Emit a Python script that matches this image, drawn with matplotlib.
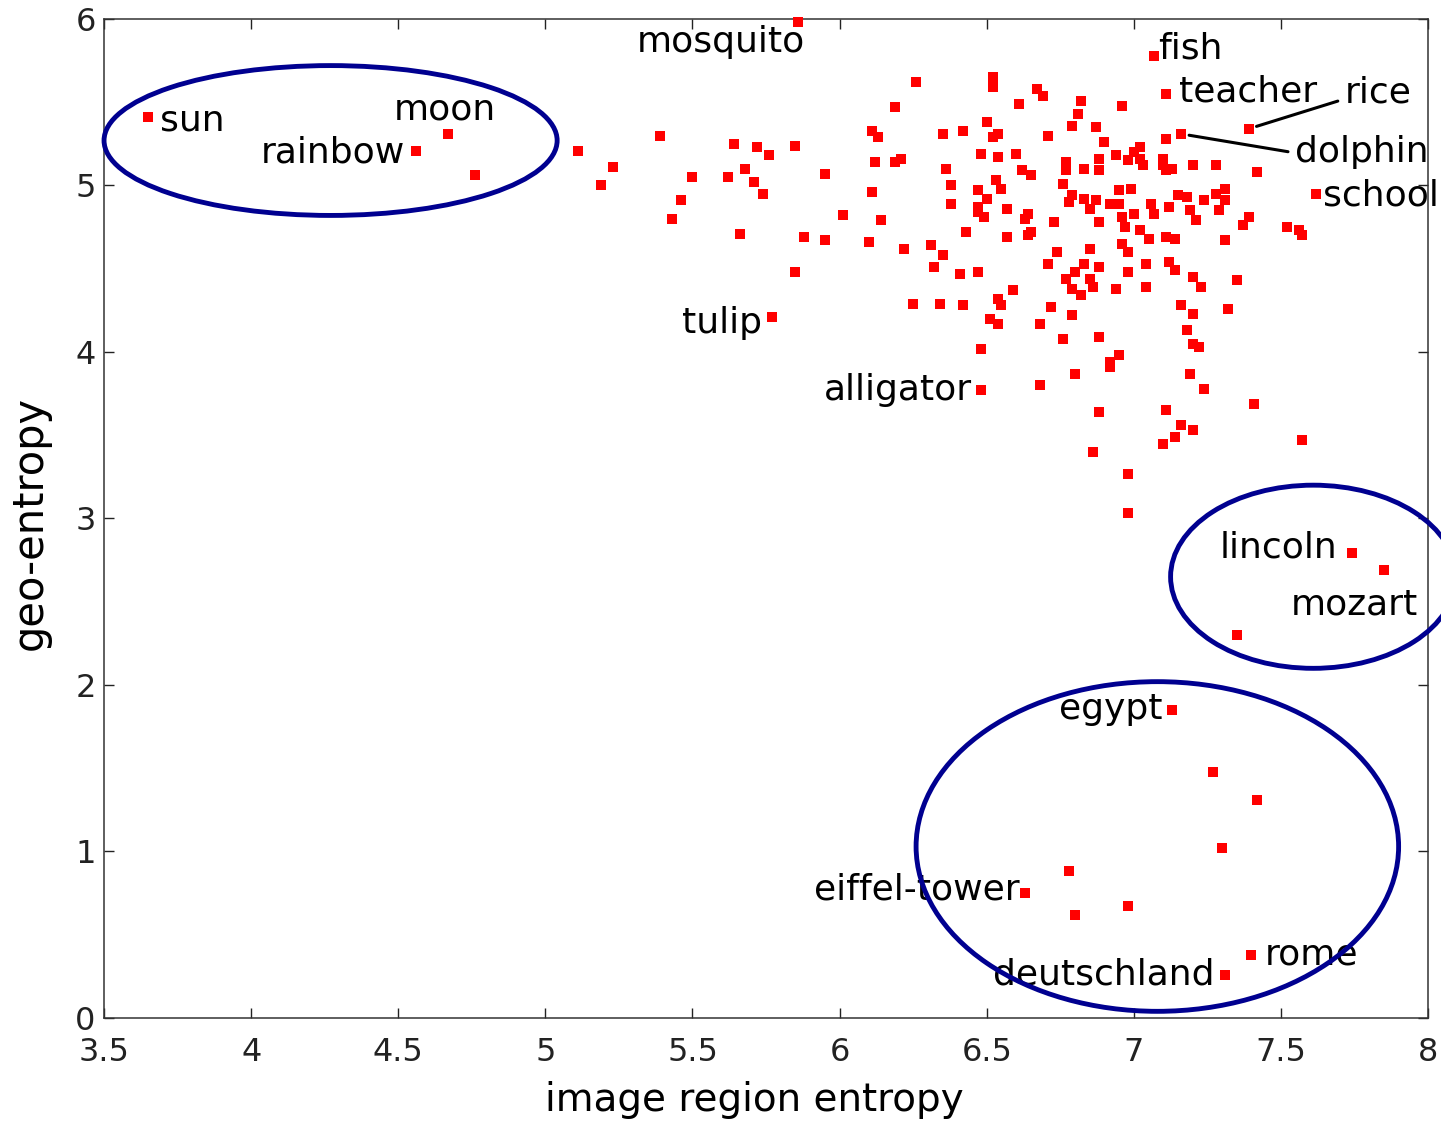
import matplotlib
matplotlib.use('Agg')
import matplotlib.pyplot as plt
from matplotlib.patches import Ellipse

# unlabeled words: image region entropy vs geo-entropy
entropy_x = [
    4.76,
    5.11, 5.39, 5.23, 5.19, 5.50, 5.46, 5.43, 5.64, 5.72, 5.76, 5.68, 5.62, 5.71, 5.74, 5.66, 5.85, 5.95, 6.01, 5.88, 5.95, 5.85,
    6.11, 6.13, 6.12, 6.19, 6.21, 6.11, 6.14, 6.10, 6.19,
    6.26, 6.52, 6.52, 6.67, 6.69, 6.82, 6.61, 6.96, 6.81, 6.79, 6.50, 6.35, 6.42, 6.52, 6.54, 6.71, 6.87, 7.11, 6.90,
    6.48, 6.54, 6.60, 6.77, 6.77, 6.76, 6.83, 6.88, 6.88, 6.94, 6.98, 7.00, 7.02, 7.02, 7.03, 7.10, 7.10, 7.11, 7.13, 7.20, 7.28, 7.42,
    6.36, 6.62, 6.65, 6.38, 6.47, 6.53, 6.55, 6.79, 6.78, 6.83, 6.85, 6.87, 6.95, 6.99, 6.92, 6.95, 7.06, 7.07, 7.12, 7.15, 7.18, 7.19,
    7.21, 7.24, 7.28, 7.31, 7.31, 7.29,
    6.38, 6.47, 6.47, 6.49, 6.50, 6.57, 6.64, 6.63, 6.73, 6.88, 6.96, 6.97, 7.00, 7.02, 7.05, 7.11, 7.14, 7.31, 7.39, 7.37, 7.52, 7.56, 7.57,
    6.43, 6.57, 6.65, 6.64, 6.22, 6.31, 6.35, 6.32, 6.41, 6.47, 6.74, 6.71, 6.85, 6.83, 6.80, 6.77, 6.79, 6.82, 6.85, 6.86, 6.88, 6.96,
    6.98, 7.04, 6.98, 6.94, 7.04, 7.12, 7.14, 7.20, 7.23, 7.35,
    6.59, 6.25, 6.34, 6.42, 6.54, 6.55, 6.51, 6.54, 6.72, 6.68, 6.79, 6.76, 6.88, 6.48, 6.95, 6.92, 6.92, 7.16, 7.20, 7.18, 7.20, 7.22, 7.32,
    6.68, 6.80, 7.19, 7.24, 7.41, 6.88, 7.11, 7.16, 7.20, 7.14, 7.10, 6.86, 6.98, 6.98, 7.57,
    7.35, 7.27, 7.42, 7.30, 6.78, 6.80, 6.98,
]
geo_y = [
    5.06,
    5.21, 5.30, 5.11, 5.00, 5.05, 4.91, 4.80, 5.25, 5.23, 5.18, 5.10, 5.05, 5.02, 4.95, 4.71, 5.24, 5.07, 4.82, 4.69, 4.67, 4.48,
    5.33, 5.29, 5.14, 5.14, 5.16, 4.96, 4.79, 4.66, 5.47,
    5.62, 5.65, 5.59, 5.58, 5.54, 5.51, 5.49, 5.48, 5.43, 5.36, 5.38, 5.31, 5.33, 5.29, 5.31, 5.30, 5.35, 5.28, 5.26,
    5.19, 5.17, 5.19, 5.14, 5.09, 5.01, 5.10, 5.16, 5.09, 5.18, 5.15, 5.20, 5.23, 5.16, 5.12, 5.16, 5.12, 5.09, 5.10, 5.12, 5.12, 5.08,
    5.10, 5.09, 5.06, 5.00, 4.97, 5.03, 4.98, 4.94, 4.90, 4.92, 4.86, 4.91, 4.97, 4.98, 4.89, 4.89, 4.89, 4.83, 4.87, 4.94, 4.93, 4.85,
    4.79, 4.91, 4.95, 4.98, 4.91, 4.85,
    4.89, 4.87, 4.84, 4.81, 4.92, 4.86, 4.83, 4.80, 4.78, 4.78, 4.81, 4.75, 4.83, 4.73, 4.68, 4.69, 4.68, 4.67, 4.81, 4.76, 4.75, 4.73, 4.70,
    4.72, 4.69, 4.72, 4.70, 4.62, 4.64, 4.58, 4.51, 4.47, 4.48, 4.60, 4.53, 4.62, 4.53, 4.48, 4.44, 4.38, 4.34, 4.44, 4.39, 4.51, 4.65,
    4.60, 4.53, 4.48, 4.38, 4.39, 4.54, 4.49, 4.45, 4.39, 4.43,
    4.37, 4.29, 4.29, 4.28, 4.32, 4.28, 4.20, 4.17, 4.27, 4.17, 4.22, 4.08, 4.09, 4.02, 3.98, 3.94, 3.91, 4.28, 4.23, 4.13, 4.05, 4.03, 4.26,
    3.80, 3.87, 3.87, 3.78, 3.69, 3.64, 3.65, 3.56, 3.53, 3.49, 3.45, 3.40, 3.27, 3.03, 3.47,
    2.30, 1.48, 1.31, 1.02, 0.88, 0.62, 0.67,
]

# labeled words
words = ['sun', 'rainbow', 'moon', 'mosquito', 'fish', 'teacher', 'rice', 'dolphin', 'school',
         'tulip', 'alligator', 'lincoln', 'mozart', 'egypt', 'eiffel-tower', 'deutschland', 'rome']
word_x = [3.65, 4.56, 4.67, 5.86, 7.07, 7.11, 7.39, 7.16, 7.62,
          5.77, 6.48, 7.74, 7.85, 7.13, 6.63, 7.31, 7.40]
word_y = [5.41, 5.21, 5.31, 5.98, 5.78, 5.55, 5.34, 5.31, 4.95,
          4.21, 3.77, 2.79, 2.69, 1.85, 0.75, 0.26, 0.38]

# label placement (pixel offset, alignment)
label_style = {
    'sun': (12, -13, 'left'), 'rainbow': (-11, -12, 'right'), 'moon': (-3, 14, 'center'),
    'mosquito': (7, -30, 'right'), 'fish': (4, -3, 'left'), 'teacher': (13, -8, 'left'),
    'rice': (96, 26, 'left'), 'dolphin': (114, -28, 'left'), 'school': (7, -12, 'left'),
    'tulip': (-10, -16, 'right'), 'alligator': (-9, -10, 'right'), 'lincoln': (-14, -4, 'right'),
    'mozart': (34, -44, 'right'), 'egypt': (-10, -9, 'right'), 'eiffel-tower': (-5, -6, 'right'),
    'deutschland': (-11, -10, 'right'), 'rome': (13, -10, 'left'),
}
leader_relpos = {'rice': (0, 0.32), 'dolphin': (0, 0.47)}

# highlighted groups: centre x, centre y, width, height
groups = [(4.27, 5.27, 1.54, 0.90), (7.61, 2.65, 0.97, 1.10), (7.08, 1.03, 1.64, 1.98)]

fig = plt.figure(figsize=(14.41, 11.22), dpi=100)
ax = fig.add_axes([0.0722, 0.0927, 0.9188, 0.8904])

ax.plot(entropy_x + word_x, geo_y + word_y, 's', color='#ff0000', markersize=7.6,
        markeredgewidth=0, clip_on=False, zorder=3)

for word, x, y in zip(words, word_x, word_y):
    dx, dy, ha = label_style[word]
    arrow = None
    if word in leader_relpos:
        arrow = dict(arrowstyle='-', color='black', lw=2.2, shrinkA=3, shrinkB=6,
                     relpos=leader_relpos[word])
    ax.annotate(word, (x, y), xytext=(dx, dy), textcoords='offset pixels', ha=ha,
                va='baseline', fontsize=26, color='black', arrowprops=arrow, zorder=4)

for cx, cy, w, h in groups:
    ax.add_patch(Ellipse((cx, cy), w, h, fill=False, edgecolor='#000090', lw=3.5,
                         clip_on=False, zorder=5))

ax.set_xlim(3.5, 8)
ax.set_ylim(0, 6)
ax.set_xticks([3.5, 4, 4.5, 5, 5.5, 6, 6.5, 7, 7.5, 8])
ax.set_xticklabels(['3.5', '4', '4.5', '5', '5.5', '6', '6.5', '7', '7.5', '8'])
ax.set_yticks([0, 1, 2, 3, 4, 5, 6])
ax.tick_params(direction='in', length=7.5, width=1, top=True, right=True, labelsize=23, colors='#222222')
ax.tick_params(axis='x', pad=14)
ax.tick_params(axis='y', pad=6)
for s in ax.spines.values():
    s.set_linewidth(1.1)
    s.set_color('#333333')

ax.set_xlabel('image region entropy', fontsize=28)
ax.xaxis.set_label_coords(0.491, -0.063)
ax.set_ylabel('geo-entropy', fontsize=30)
ax.yaxis.set_label_coords(-0.040, 0.496)

fig.savefig('out.png', dpi=100)
